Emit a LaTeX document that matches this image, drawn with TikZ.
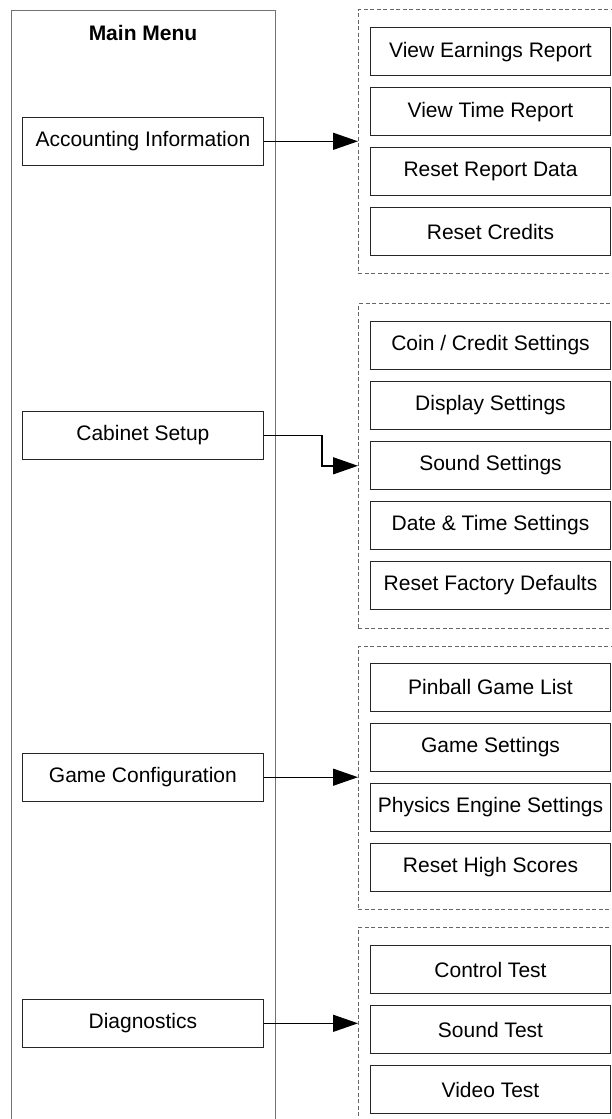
\documentclass[tikz,border=0pt]{standalone}
\usepackage{fontspec}
\setmainfont{Liberation Sans}
\usetikzlibrary{arrows.meta}
\begin{document}
\begin{tikzpicture}[x=1pt,y=-1pt,
  every node/.style={font=\fontsize{21}{25}\selectfont},
  menubox/.style={draw=black!85, line width=0.9pt, minimum width=240.5pt, minimum height=47.8pt, inner sep=0pt},
  subbox/.style={draw=black!85, line width=0.9pt, minimum width=240pt, minimum height=47.8pt, inner sep=0pt},
  groupbox/.style={draw=black!60, line width=0.8pt, dash pattern=on 4pt off 2.5pt, minimum width=266pt, anchor=north west, inner sep=0pt},
  mainframe/.style={draw=black!55, line width=0.9pt, anchor=north west, minimum width=264pt, minimum height=1125pt, inner sep=0pt},
  arr/.style={line width=1.4pt, -{Triangle[length=25pt,width=17pt]}}]
\useasboundingbox (0,0) rectangle (611,1119);
% main menu column
\node[mainframe] (mm) at (11,9.5) {};
\node[font=\bfseries\fontsize{21}{25}\selectfont] (mmt) at (143,32.5) {Main Menu};
\node[menubox] (acc) at (142.9,141.3) {Accounting Information};
\node[menubox] (cab) at (142.9,435.5) {Cabinet Setup};
\node[menubox] (game) at (142.9,777.2) {Game Configuration};
\node[menubox] (diag) at (142.9,1023.3) {Diagnostics};
% groups
\node[groupbox, minimum height=264pt] (g1) at (358,9.3) {};
\node[groupbox, minimum height=324.2pt] (g2) at (358,303.3) {};
\node[groupbox, minimum height=263.6pt] (g3) at (358,645.7) {};
\node[groupbox, minimum height=200pt] (g4) at (358,927.3) {};
% group 1
\node[subbox] (a1) at (490.5,51.7) {View Earnings Report};
\node[subbox] (a2) at (490.5,111.7) {View Time Report};
\node[subbox] (a3) at (490.5,171.7) {Reset Report Data};
\node[subbox] (a4) at (490.5,231.7) {Reset Credits};
% group 2
\node[subbox] (b1) at (490.5,345.5) {Coin / Credit Settings};
\node[subbox] (b2) at (490.5,405.5) {Display Settings};
\node[subbox] (b3) at (490.5,465.5) {Sound Settings};
\node[subbox] (b4) at (490.5,525.5) {Date \& Time Settings};
\node[subbox] (b5) at (490.5,585.5) {Reset Factory Defaults};
% group 3
\node[subbox] (c1) at (490.5,687.2) {Pinball Game List};
\node[subbox] (c2) at (490.5,747.2) {Game Settings};
\node[subbox] (c3) at (490.5,807.2) {Physics Engine Settings};
\node[subbox] (c4) at (490.5,867.2) {Reset High Scores};
% group 4
\node[subbox] (d1) at (490.5,969.5) {Control Test};
\node[subbox] (d2) at (490.5,1029.5) {Sound Test};
\node[subbox] (d3) at (490.5,1089.5) {Video Test};
% connectors
\coordinate (cbend) at (322,0);
\draw[arr] (acc.east) -- (acc.east -| g1.west);
\draw[arr] (cab.east) -- (cab.east -| cbend) |- (g2.west);
\draw[arr] (game.east) -- (game.east -| g3.west);
\draw[arr] (diag.east) -- (diag.east -| g4.west);
\end{tikzpicture}
\end{document}
